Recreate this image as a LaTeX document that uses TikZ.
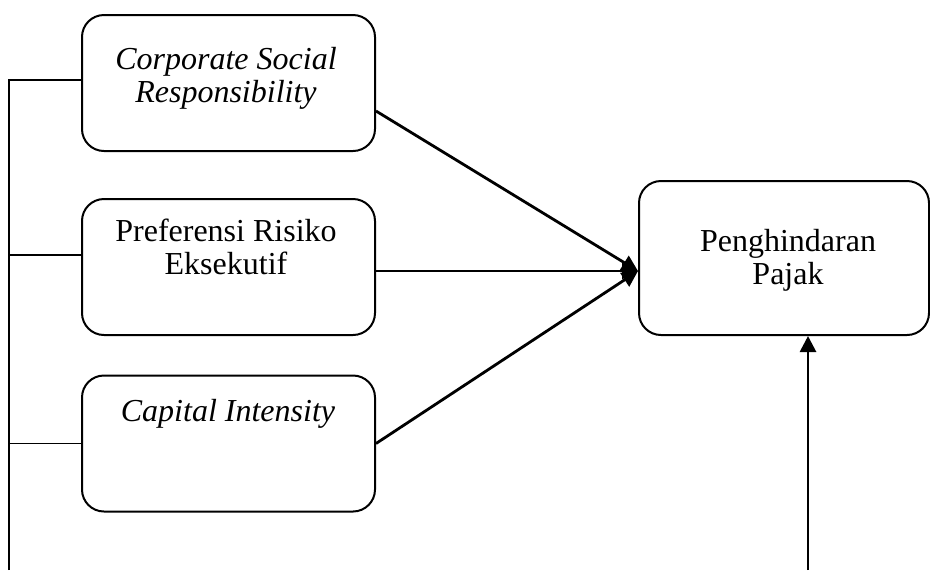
\documentclass[tikz,border=0pt]{standalone}
\usepackage{fontspec}
\setmainfont{Liberation Serif}
\usetikzlibrary{arrows.meta, positioning, calc}

\tikzset{
    kotak/.style={draw, line width=1pt, rounded corners=11pt, minimum width=146.5pt, inner sep=0pt},
    teks/.style={align=center, font=\fontsize{16}{16.5}\selectfont},
    panah/.style={line width=1.4pt, -{Triangle[length=8pt, width=8pt]}},
    garis/.style={line width=0.8pt}
}

\begin{document}
\begin{tikzpicture}[x=0.5pt, y=-0.5pt]
    \useasboundingbox (0,0) rectangle (930,570);

    % Kotak variabel independen
    \node[kotak, minimum height=68pt] (csr) at (228.5,83) {};
    \node[kotak, minimum height=68pt] (prefrisiko) at (228.5,267) {};
    \node[kotak, minimum height=68pt] (capint) at (228.5,443.5) {};

    % Kotak variabel dependen
    \node[kotak, minimum width=145pt, minimum height=77pt] (pajak) at (784,258) {};

    % Teks
    \node[teks] (csrteks) at (226,78) {\textit{Corporate Social}\\\textit{Responsibility}};
    \node[teks] (prefteks) at (226,247) {Preferensi Risiko\\Eksekutif};
    \node[teks] (capteks) at (228,414) {\textit{Capital Intensity}};
    \node[teks] (pajakteks) at (788,260) {Penghindaran\\Pajak};

    % Titik bantu
    \coordinate (tuju) at ([yshift=-6.5pt]pajak.west);
    \coordinate (kiri) at (9,570);
    \coordinate (bawah) at (808,570);
    \coordinate (c1) at ([yshift=1.5pt]csr.west);
    \coordinate (c2) at ([yshift=6pt]prefrisiko.west);

    % Garis kiri
    \draw[garis] (kiri) |- (c1);
    \draw[garis] (kiri |- c2) -- (c2);
    \draw[garis] (kiri |- capint.west) -- (capint.west);

    % Panah
    \draw[panah] ([yshift=-14pt]csr.east) -- (tuju);
    \draw[panah] (prefrisiko.east |- tuju) -- (tuju);
    \draw[panah] (capint.east) -- (tuju);
    \draw[panah] (bawah) -- (bawah |- pajak.south);
\end{tikzpicture}
\end{document}
